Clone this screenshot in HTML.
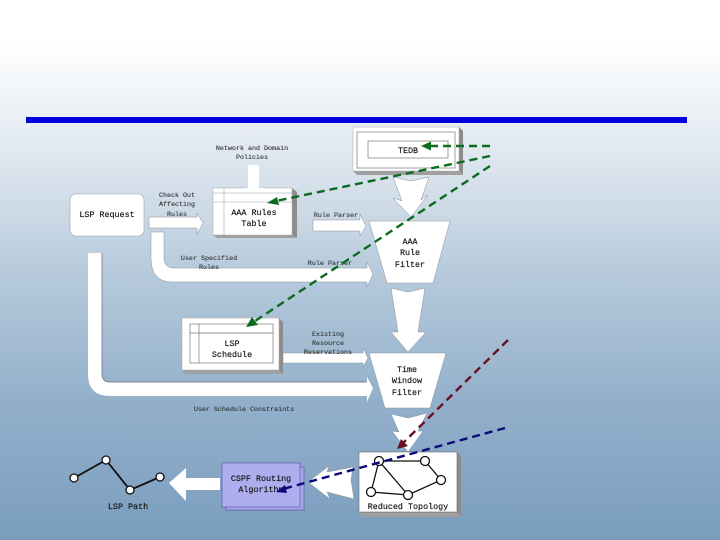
<!DOCTYPE html>
<html>
<head>
<meta charset="utf-8">
<style>
html,body{margin:0;padding:0;width:720px;height:540px;overflow:hidden}
svg{display:block}
text{font-family:"Liberation Mono",monospace;text-anchor:middle;fill:#222}
.b{font-size:8.4px;fill:#111;stroke:#111;stroke-width:.15}
.s{font-size:6.7px;fill:#2a2a2a;stroke:#2a2a2a;stroke-width:.08}
.w{fill:#fff;stroke:#8a9098;stroke-width:.5}
.g{fill:none;stroke:#777;stroke-width:.7}
.n{fill:#fff;stroke:#111;stroke-width:1.3}
.sl{fill:#8c8c8c}
.sd{fill:#a0a0a0}
</style>
</head>
<body>
<svg width="720" height="540" viewBox="0 0 720 540" xmlns="http://www.w3.org/2000/svg">
<defs>
<linearGradient id="bg" x1="0" y1="0" x2="0" y2="1">
<stop offset="0" stop-color="#ffffff"/>
<stop offset=".08" stop-color="#ffffff"/>
<stop offset=".33" stop-color="#d8e2ec"/>
<stop offset=".5" stop-color="#b7cbdc"/>
<stop offset=".74" stop-color="#93b0cb"/>
<stop offset="1" stop-color="#7a9dbe"/>
</linearGradient>
</defs>
<rect width="720" height="540" fill="url(#bg)"/>
<rect x="26" y="117" width="661" height="6" fill="#0000dd"/>

<!-- TEDB -->
<polygon class="sl" points="459,127 463,131 463,175 459,171"/>
<polygon class="sd" points="353,171 459,171 463,175 357,175"/>
<rect x="353" y="127" width="106" height="44" fill="#fff" stroke="#aaa" stroke-width=".5"/>
<rect x="357" y="132" width="98" height="36" class="g"/>
<rect x="368" y="141" width="80" height="17" class="g"/>
<text x="408" y="153" class="b">TEDB</text>

<!-- flow arrows between filters -->
<polygon class="w" points="393,177 411,181 429,177 421,200 428,195 411,217 393,198 402,201"/>
<polygon class="w" points="369,221 450,221 433,283 387,283"/>
<text x="410" y="244" class="b">AAA</text>
<text x="410" y="255" class="b">Rule</text>
<text x="410" y="267" class="b">Filter</text>
<polygon class="w" points="391,288 408,292 425,288 418,332 426,332 408,352 391,332 398,332"/>
<polygon class="w" points="369,353 446,353 430,408 385,408"/>
<text x="407" y="372" class="b">Time</text>
<text x="407" y="383" class="b">Window</text>
<text x="407" y="395" class="b">Filter</text>
<polygon class="w" points="391,414 408,418 427,413 418,431 423,431 408,452 392,431 399,432"/>

<!-- Reduced Topology -->
<polygon class="sl" points="457,452 461,456 461,517 457,512"/>
<polygon class="sd" points="359,512 457,512 461,517 363,517"/>
<rect x="359" y="452" width="98" height="60" fill="#fff" stroke="#555" stroke-width=".5"/>
<path d="M379,461 L425,461 L441,480 L408,495 L371,492 L379,461 L408,495" stroke="#111" stroke-width="1.3" fill="none"/>
<circle class="n" cx="379" cy="461" r="4.5"/>
<circle class="n" cx="425" cy="461" r="4.5"/>
<circle class="n" cx="441" cy="480" r="4.5"/>
<circle class="n" cx="408" cy="495" r="4.5"/>
<circle class="n" cx="371" cy="492" r="4.5"/>
<text x="408" y="509" class="b">Reduced Topology</text>

<polygon class="w" points="308,482 329,466 327,472 353,467 351,480 354,499 327,492 330,499"/>

<!-- CSPF -->
<rect x="226" y="467" width="78" height="43" fill="#a8a8e8" stroke="#5a5ab0" stroke-width=".7"/>
<rect x="222" y="463" width="78" height="44" fill="#aeaeee" stroke="#5a5ab0" stroke-width=".7"/>
<text x="261" y="481" class="b">CSPF Routing</text>
<text x="261" y="492" class="b">Algorithm</text>

<polygon fill="#fff" points="169,483 186,468 186,478 220,478 220,490 186,490 186,501"/>

<!-- LSP path -->
<path d="M74,478 L106,460 L130,490 L160,477" fill="none" stroke="#111" stroke-width="1.8"/>
<circle class="n" cx="74" cy="478" r="4"/>
<circle class="n" cx="106" cy="460" r="4"/>
<circle class="n" cx="130" cy="490" r="4"/>
<circle class="n" cx="160" cy="477" r="4"/>
<text x="128" y="509" class="b">LSP Path</text>

<!-- LSP Request -->
<rect x="70" y="194" width="74" height="42" rx="6" fill="#fff" stroke="#9aa4ae" stroke-width=".6"/>
<text x="107" y="217" class="b">LSP Request</text>

<!-- Check out -->
<polygon class="w" points="149,217 197,217 197,213 203,223 197,234 197,228 149,228"/>
<text x="177" y="197" class="s">Check Out</text>
<text x="177" y="206" class="s">Affecting</text>
<text x="177" y="216" class="s">Rules</text>

<!-- Network -->
<text x="252" y="150" class="s">Network and Domain</text>
<text x="252" y="159" class="s">Policies</text>

<!-- AAA table -->
<polygon class="sl" points="292,188 297,192 297,238 292,235"/>
<polygon class="sd" points="213,235 292,235 297,238 217,238"/>
<rect x="213" y="188" width="79" height="47" fill="#fff" stroke="#aaa" stroke-width=".5"/>
<path d="M224,188 V235 M213,193 H292 M213,202 H292" fill="none" stroke="#999" stroke-width=".5"/>
<polygon fill="#fff" points="248,165 259,165 259,188 265,188 254,192 243,188 248,188"/>
<text x="254" y="215" class="b">AAA Rules</text>
<text x="254" y="226" class="b">Table</text>

<!-- Rule parser upper -->
<polygon class="w" points="313,220 360,220 360,214 366,226 360,236 360,231 313,231"/>
<text x="336" y="217" class="s">Rule Parser</text>

<!-- U arrow -->
<path class="w" d="M151,232 H164 V258 Q164,268 174,268 H367 V262 L373,274 L367,287 V282 H172 Q151,282 151,258 Z"/>
<text x="209" y="260" class="s">User Specified</text>
<text x="209" y="269" class="s">Rules</text>
<text x="330" y="265" class="s">Rule Parser</text>

<!-- L arrow -->
<path fill="#fff" d="M88,253 H102 V374 Q102,382 110,382 H367 V377 L373,388 L367,402 V396 H110 Q88,396 88,374 Z"/>
<path d="M102,253 V374 Q102,382 110,382 H367" fill="none" stroke="#667" stroke-width=".7"/>
<text x="244" y="411" class="s">User Schedule Constraints</text>

<!-- LSP Schedule -->
<polygon class="sl" points="279,318 283,322 283,374 279,370"/>
<polygon class="sd" points="182,370 279,370 283,374 186,374"/>
<rect x="182" y="318" width="97" height="52" fill="#fff" stroke="#aaa" stroke-width=".5"/>
<rect x="190" y="324" width="83" height="39" class="g"/>
<path d="M190,333 H273 M199,324 V363" class="g"/>
<text x="232" y="346" class="b">LSP</text>
<text x="232" y="357" class="b">Schedule</text>

<polygon class="w" points="283,353 363,353 363,348 368,358 363,367 363,363 283,363"/>
<text x="328" y="336" class="s">Existing</text>
<text x="328" y="345" class="s">Resource</text>
<text x="328" y="354" class="s">Reservations</text>

<!-- Dashed overlays -->
<g fill="none" stroke-width="2.4" stroke-dasharray="8 5">
<path d="M490,146 L428,146" stroke="#0b6b1f"/>
<path d="M490,156 L276,201" stroke="#0b6b1f"/>
<path d="M490,166 L252,323" stroke="#0b6b1f"/>
<path d="M508,340 L403,443" stroke="#6b0f24"/>
<path d="M505,428 L283,489" stroke="#0a0a7a"/>
</g>
<polygon fill="#0b6b1f" points="421,146 431,141.5 431,150.5"/>
<polygon fill="#0b6b1f" points="267,203 277,197 279,205"/>
<polygon fill="#0b6b1f" points="246,327 252,317 258,325"/>
<polygon fill="#6b0f24" points="397,449 401,439 408,446"/>
<polygon fill="#0a0a7a" points="276,492 285,485 287,493"/>
</svg>
</body>
</html>
